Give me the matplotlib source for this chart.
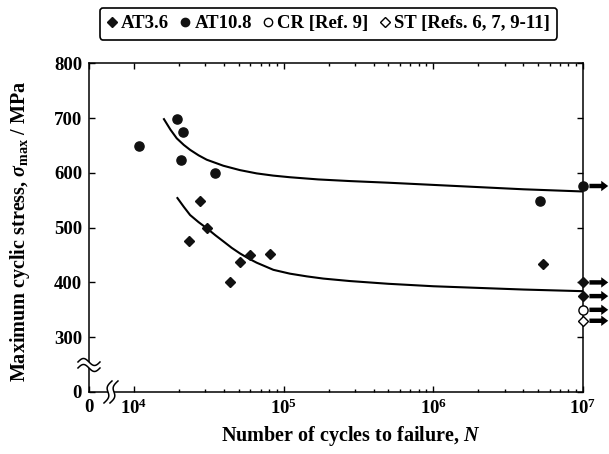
import matplotlib
matplotlib.use("Agg")
import matplotlib.pyplot as plt
import matplotlib.transforms as mtransforms
import numpy as np
from matplotlib.lines import Line2D
from matplotlib.patches import Polygon
from matplotlib.ticker import FixedLocator, NullFormatter

plt.rcParams["font.family"] = ["Liberation Serif", "DejaVu Serif"]
plt.rcParams["font.weight"] = "bold"
plt.rcParams["mathtext.fontset"] = "custom"
plt.rcParams["mathtext.rm"] = "Liberation Serif"
plt.rcParams["mathtext.it"] = "Liberation Serif:italic:bold"
plt.rcParams["mathtext.bf"] = "Liberation Serif:bold"

# AT3.6 results
at36_cycles = [2.32e4, 2.76e4, 3.09e4, 4.4e4, 5.1e4, 5.97e4, 8.1e4, 5.4e6]
at36_stress = [475, 549, 500, 400, 438, 450, 451, 434]

# AT10.8 results
at108_cycles = [1.08e4, 1.93e4, 2.06e4, 2.14e4, 3.47e4, 5.2e6]
at108_stress = [649, 698, 624, 675, 599, 549]

# run-outs at 1e7 cycles
runout_cycles = 1e7
at36_runout = [400, 375]
at108_runout = [576]
cr_runout = [350]
st_runout = [330]

# S-N trend lines
upper_cycles = [1.585e4, 1.75e4, 1.93e4, 2.15e4, 2.37e4, 2.7e4, 3.06e4, 3.95e4, 5.1e4,
                6.6e4, 8.5e4, 1.1e5, 1.7e5, 2.77e5, 5e5, 1e6, 2e6, 4e6, 1e7]
upper_stress = [698, 679, 663, 651, 642, 632, 624, 613, 605,
                599, 595, 592, 588, 585, 582, 578, 574, 570, 566]
lower_cycles = [1.95e4, 2.15e4, 2.37e4, 2.7e4, 3.06e4, 3.5e4, 3.95e4, 4.5e4, 5.1e4,
                5.8e4, 6.6e4, 8.53e4, 1.1e5, 1.43e5, 1.84e5, 2.77e5, 5e5, 1e6, 2e6, 4e6, 1e7]
lower_stress = [554, 538, 523, 510, 499, 486, 475, 463, 453,
                444, 436, 423, 416, 411, 407, 402.5, 397.5, 393, 390, 387, 384]

x_ticks = [5e3, 1e4, 1e5, 1e6, 1e7]
x_ticklabels = ["0", r"$\mathbf{10^4}$", r"$\mathbf{10^5}$", r"$\mathbf{10^6}$", r"$\mathbf{10^7}$"]
y_ticks = [200, 300, 400, 500, 600, 700, 800]
y_ticklabels = ["0", "300", "400", "500", "600", "700", "800"]

fig = plt.figure(figsize=(6.09, 4.54), dpi=100)
ax = fig.add_axes([0.1461, 0.1366, 0.8112, 0.724])

ax.plot(upper_cycles, upper_stress, color="black", lw=1.5, zorder=2)
ax.plot(lower_cycles, lower_stress, color="black", lw=1.5, zorder=2)

ax.plot(at36_cycles, at36_stress, "D", color="#111111", ms=5.6, ls="none", zorder=3)
ax.plot(at108_cycles, at108_stress, "o", color="#111111", ms=6.6, ls="none", zorder=3)

ax.plot([runout_cycles] * len(at36_runout), at36_runout, "D", color="#111111",
        ms=5.6, ls="none", clip_on=False, zorder=5)
ax.plot([runout_cycles] * len(at108_runout), at108_runout, "o", color="#111111",
        ms=6.6, ls="none", clip_on=False, zorder=5)
ax.plot([runout_cycles] * len(cr_runout), cr_runout, "o", mfc="white", mec="black",
        mew=1.0, ms=6.6, ls="none", clip_on=False, zorder=5)
ax.plot([runout_cycles] * len(st_runout), st_runout, "D", mfc="white", mec="black",
        mew=1.0, ms=5.6, ls="none", clip_on=False, zorder=5)

# run-out arrows to the right of the frame
arrow_trans = mtransforms.blended_transform_factory(ax.transAxes, ax.transData)
for s in at108_runout + at36_runout + cr_runout + st_runout:
    ax.annotate("", xy=(1.051, s), xytext=(1.013, s),
                xycoords=arrow_trans, textcoords=arrow_trans,
                arrowprops=dict(arrowstyle="simple,head_length=0.5,head_width=0.75,tail_width=0.32",
                                fc="black", ec="black", lw=0, mutation_scale=10,
                                shrinkA=0, shrinkB=0),
                annotation_clip=False)

ax.set_xscale("log")
ax.set_xlim(5e3, 1e7)
ax.set_ylim(200, 800)
ax.set_xticks(x_ticks)
ax.set_xticklabels(x_ticklabels)
ax.xaxis.set_minor_locator(FixedLocator([k * 10 ** d for d in range(4, 7) for k in range(2, 10)]))
ax.xaxis.set_minor_formatter(NullFormatter())
ax.set_yticks(y_ticks)
ax.set_yticklabels(y_ticklabels)
ax.tick_params(which="both", direction="in", top=True, right=True, labelsize=13.5, width=1.0)
ax.tick_params(which="major", length=4.3, pad=5)
ax.tick_params(which="minor", length=2.3)
for sp in ax.spines.values():
    sp.set_linewidth(1.1)

ax.set_xlabel("Number of cycles to failure, $N$", fontsize=14.5, fontweight="bold")
ax.set_ylabel(r"Maximum cyclic stress, $\sigma_{\rm max}$ / MPa", fontsize=14.5,
              fontweight="bold")
ax.xaxis.set_label_coords(0.53, -0.098)
ax.yaxis.set_label_coords(-0.115, 0.49)

# axis break symbols (sizes in pixels converted to axes fraction)
ax_w = 0.8112 * 609
ax_h = 0.724 * 454


def draw_break(xs, ys, dx, dy):
    x1 = np.array(xs) / ax_w
    y1 = np.array(ys) / ax_h
    x2 = (np.array(xs) + dx) / ax_w
    y2 = (np.array(ys) + dy) / ax_h
    poly = np.vstack([np.column_stack([x1, y1]), np.column_stack([x2, y2])[::-1]])
    ax.add_patch(Polygon(poly, closed=True, fc="white", ec="none",
                         transform=ax.transAxes, clip_on=False, zorder=6))
    for xx, yy in ((x1, y1), (x2, y2)):
        ax.add_line(Line2D(xx, yy, color="black", lw=1.1, transform=ax.transAxes,
                           clip_on=False, zorder=7))


t = np.linspace(0, 1, 30)
# y-axis break across the left spine
draw_break(-11 + 22 * t, 30 + 3.5 * np.sin(2 * np.pi * t), 0, -6)
# x-axis break across the bottom spine
draw_break(19 + 4 * (1 - 2 * t) - 2.5 * np.sin(2 * np.pi * t), 11 - 22 * t, 6, 0)

handles = [
    Line2D([], [], marker="D", color="#111111", ls="none", ms=5.0),
    Line2D([], [], marker="o", color="#111111", ls="none", ms=6.0),
    Line2D([], [], marker="o", mfc="white", mec="black", mew=1.0, ls="none", ms=6.0),
    Line2D([], [], marker="D", mfc="white", mec="black", mew=1.0, ls="none", ms=5.0),
]
labels = ["AT3.6", "AT10.8", "CR [Ref. 9]", "ST [Refs. 6, 7, 9-11]"]
leg = fig.legend(handles, labels, loc="center", bbox_to_anchor=(0.5395, 0.948), ncol=4,
                 handlelength=0.5, handletextpad=0.25, columnspacing=0.6,
                 frameon=True, fancybox=True, framealpha=1, edgecolor="black",
                 borderpad=0.4, prop={"weight": "bold", "size": 13.5})
leg.get_frame().set_linewidth(1.2)

fig.savefig("out.png", dpi=100)
